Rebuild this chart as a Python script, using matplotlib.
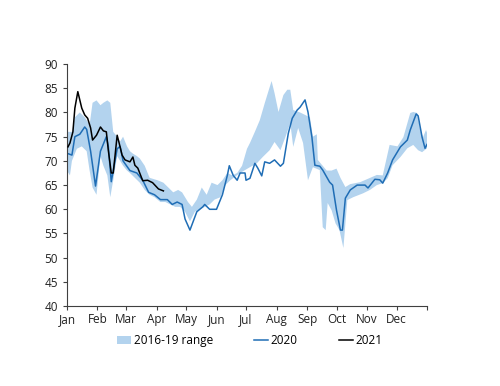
import matplotlib
matplotlib.use("Agg")
import matplotlib.pyplot as plt
import numpy as np
from matplotlib.patches import Patch
from matplotlib.lines import Line2D

# Day-of-year tick positions and labels
month_starts = [0, 31, 60, 91, 121, 152, 182, 213, 244, 274, 305, 335, 366]
month_labels = ["Jan", "Feb", "Mar", "Apr", "May", "Jun", "Jul", "Aug", "Sep", "Oct", "Nov", "Dec"]

# 2016-19 range: upper edge
range_hi_day = [0, 5, 8, 13, 18, 23, 26, 30, 34, 37, 41, 44, 47, 51, 54, 57, 61, 64, 67, 71, 74, 79, 84,
                92, 98, 103, 108, 113, 117, 120, 123, 127, 132, 137, 142, 147, 153, 158, 163, 168, 173,
                178, 183, 186, 191, 196, 201, 206, 208, 211, 215, 220, 224, 227, 230, 237, 247, 250,
                254, 255, 264, 269, 274, 278, 283, 288, 298, 306, 315, 321, 328, 336, 342, 349, 352,
                356, 359, 362, 365, 366]
range_hi_val = [76, 76, 79, 80, 79, 77.5, 82, 82.5, 81.5, 82, 82.5, 82, 76, 75, 74, 75, 73, 72, 71.5, 71,
                70.5, 69, 66.5, 66, 65.5, 64.5, 63.5, 64, 63.5, 62.5, 61.5, 60.5, 62, 64.5, 63, 65.5,
                65, 66, 67.5, 67, 67.5, 69, 72.5, 73.7, 76, 78.4, 81.9, 85.2, 86.5, 84, 80.1, 83.6,
                84.7, 84.7, 80.5, 80, 79, 75, 75.5, 70.2, 68, 68, 68.4, 66.5, 64.6, 65.2, 65.6, 66.3,
                67.1, 67, 73.3, 73, 74.9, 79.9, 80.1, 79.9, 76.4, 74.9, 76.4, 75.8]

# 2016-19 range: lower edge
range_lo_day = [0, 3, 5, 10, 15, 20, 23, 26, 30, 34, 37, 41, 44, 47, 51, 54, 57, 61, 64, 69, 74, 79, 84,
                89, 95, 100, 105, 110, 115, 120, 125, 130, 135, 140, 145, 150, 156, 161, 166, 176, 186,
                193, 199, 206, 211, 217, 222, 227, 230, 235, 240, 245, 250, 257, 260, 263, 265, 269,
                273, 277, 281, 285, 291, 301, 308, 315, 321, 326, 331, 339, 346, 352, 357, 361, 366]
range_lo_val = [68, 67, 70, 72.5, 73, 72, 68, 64.5, 63, 71, 69, 67, 62.5, 66, 71, 70, 69, 68, 67.5, 66.5,
                65.5, 64, 63, 62.5, 61.5, 61.5, 61, 60.5, 60.5, 59.5, 57.5, 59.5, 60, 60.5, 61, 62,
                62.5, 65, 66, 67.5, 68.7, 69.5, 70.8, 72.2, 73.9, 72.2, 74.9, 77.8, 72.9, 76.8, 73.7,
                66, 68.7, 68.1, 56.3, 55.7, 61.3, 59.8, 57.1, 55.7, 52, 61.9, 62.5, 63.3, 64, 65, 65.4,
                66.4, 69.1, 70.8, 72.6, 73.3, 72.2, 71.8, 72.6]

# 2020 series
s2020_day = [1, 5, 8, 13, 18, 20, 24, 29, 34, 40, 42, 45, 51, 54, 57, 64, 71, 77, 83, 89, 95, 102, 107,
             112, 117, 120, 125, 132, 138, 140, 145, 152, 158, 163, 165, 169, 173, 176, 181, 182, 186,
             191, 194, 198, 201, 206, 211, 217, 220, 225, 229, 234, 237, 242, 245, 249, 252, 257, 260,
             267, 270, 274, 278, 280, 283, 288, 295, 303, 306, 313, 318, 321, 326, 331, 339, 346, 349,
             355, 357, 361, 364, 366]
s2020_val = [71.5, 71.2, 75.0, 75.5, 77.0, 76.5, 72.0, 64.8, 72.0, 75.0, 73.0, 65.7, 72.5, 73.0, 70.0,
             68.0, 67.5, 66.0, 63.5, 63.0, 62.0, 62.0, 61.0, 61.5, 61.0, 58.0, 55.7, 59.5, 60.5, 61.0,
             60.0, 60.0, 63.0, 67.0, 69.0, 67.0, 66.0, 67.5, 67.5, 66.0, 66.4, 69.5, 68.5, 66.9, 69.8,
             69.5, 70.2, 68.9, 69.5, 75.7, 78.8, 80.5, 81.1, 82.6, 80.1, 74.9, 69.1, 68.9, 68.1, 65.6,
             65.0, 59.8, 55.7, 55.7, 62.3, 64.0, 65.0, 65.0, 64.4, 66.2, 66.1, 65.4, 67.5, 70.2, 72.9,
             74.3, 76.4, 79.7, 79.3, 74.9, 72.6, 73.4]

# 2021 series
s2021_day = [1, 3, 6, 8, 11, 15, 18, 21, 24, 26, 30, 34, 37, 40, 42, 45, 47, 51, 53, 56, 59, 64, 67,
             69, 72, 77, 82, 87, 93, 98]
s2021_val = [72.9, 73.7, 76.0, 80.9, 84.3, 80.9, 79.5, 78.8, 76.8, 74.3, 75.3, 77.0, 76.2, 76.0, 72.2,
             67.5, 67.5, 75.3, 73.7, 71.2, 70.2, 69.8, 70.8, 69.1, 68.5, 65.9, 66.0, 65.5, 64.2, 63.8]

band_color = "#b3d3ee"
c2020 = "#1f6db5"
c2021 = "#000000"

plt.rcParams['font.family'] = ['Open Sans', 'DejaVu Sans']

fig = plt.figure(figsize=(5.0, 3.86), dpi=100)
ax = fig.add_axes([0.134, 0.207, 0.72, 0.627])

poly_x = np.concatenate([range_hi_day, range_lo_day[::-1]])
poly_y = np.concatenate([range_hi_val, range_lo_val[::-1]])
ax.fill(poly_x, poly_y, color=band_color, linewidth=0, zorder=1)
ax.plot(s2020_day, s2020_val, color=c2020, linewidth=1.1, zorder=2)
ax.plot(s2021_day, s2021_val, color=c2021, linewidth=1.1, zorder=3)

ax.set_xlim(0, 366)
ax.set_ylim(40, 90)
ax.set_yticks(np.arange(40, 91, 5))
ax.set_xticks(month_starts)
ax.set_xticklabels(month_labels + [""])
ax.spines['top'].set_visible(False)
ax.spines['right'].set_visible(False)
for s in ['left', 'bottom']:
    ax.spines[s].set_color('#404040')
    ax.spines[s].set_linewidth(0.8)
ax.tick_params(axis='both', labelsize=8.5, colors='#404040', labelcolor='#222222', length=3, width=0.8)
ax.tick_params(axis='x', pad=2)

handles = [Patch(facecolor=band_color, edgecolor='none', label='2016-19 range'),
           Line2D([0], [0], color=c2020, lw=1.1, label='2020'),
           Line2D([0], [0], color=c2021, lw=1.1, label='2021')]
fig.legend(handles=handles, loc='center', bbox_to_anchor=(0.5, 0.118), ncol=3, frameon=False,
           fontsize=8.5, handlelength=1.2, handletextpad=0.2, columnspacing=3.5)

fig.savefig("out.png", dpi=100)
